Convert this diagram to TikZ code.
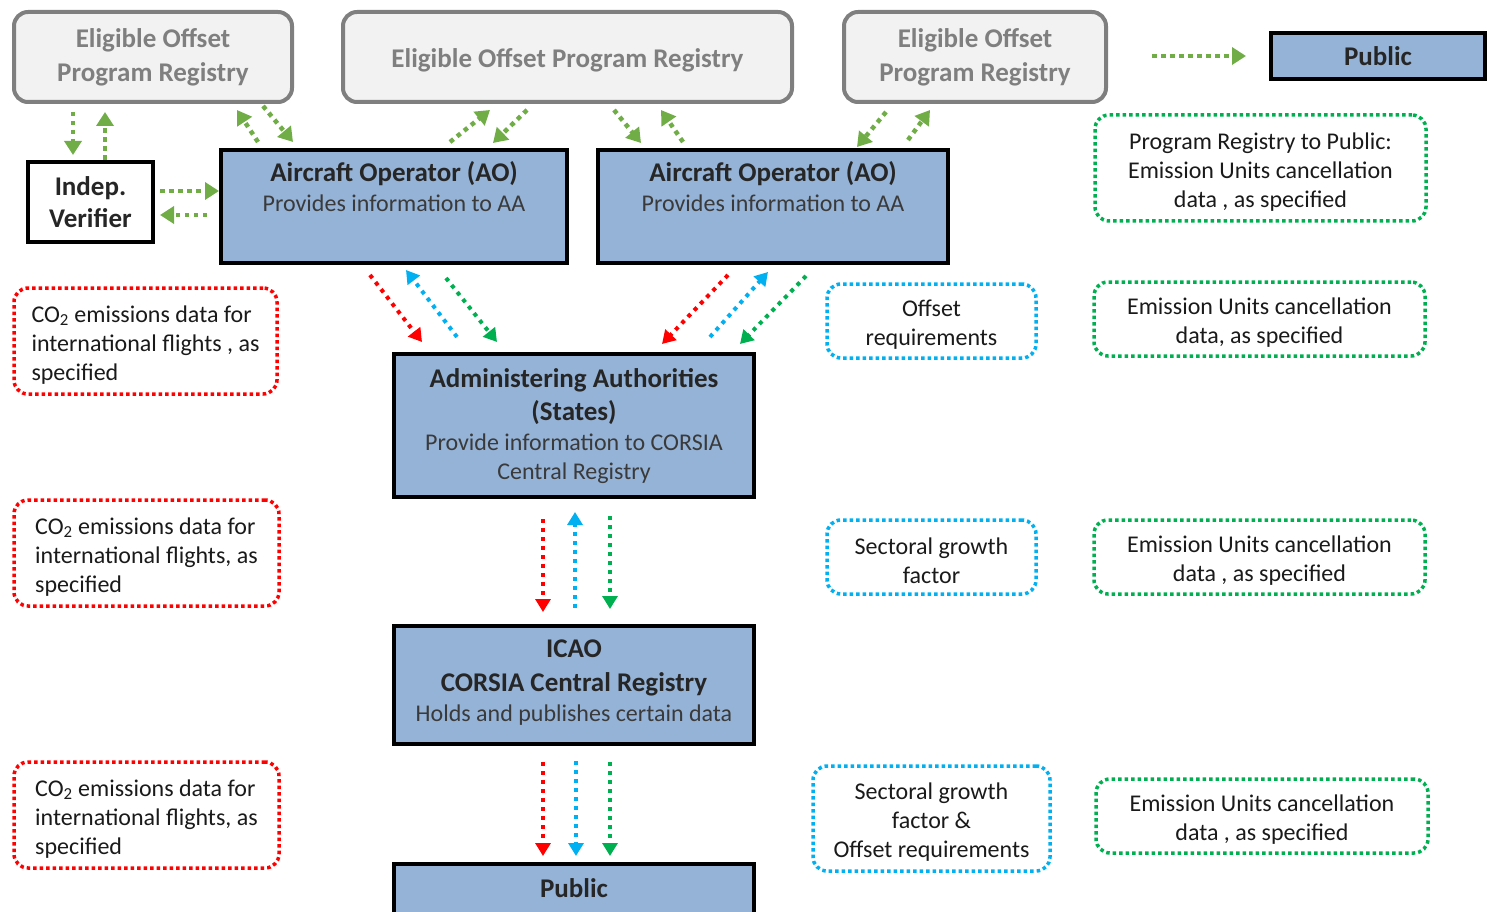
\documentclass[tikz,border=0pt]{standalone}
\usepackage{fontspec}
\setmainfont{Carlito}
\usetikzlibrary{arrows.meta,calc}
\definecolor{regfill}{HTML}{F2F2F2}
\definecolor{regdraw}{HTML}{7F7F7F}
\definecolor{regtext}{HTML}{7F7F7F}
\definecolor{boxfill}{HTML}{95B3D7}
\definecolor{boxtext}{HTML}{262626}
\definecolor{subtext}{HTML}{3A3A3A}
\definecolor{cOlive}{HTML}{70AD47}
\definecolor{cGreen}{HTML}{00B050}
\definecolor{cBlue}{HTML}{00B0F0}
\definecolor{cRed}{HTML}{FF0000}
\definecolor{dtext}{HTML}{1A1A1A}
\newcommand{\lowr}{\rule{0pt}{24pt}}
\tikzset{
  regbox/.style={draw=regdraw, fill=regfill, line width=4pt, rounded corners=14pt,
    text=regtext, font=\bfseries\fontsize{27}{34}\selectfont, align=center, inner sep=0pt},
  mainbox/.style={draw=black, fill=boxfill, line width=4pt, text=boxtext, align=center, inner sep=0pt},
  ttl/.style={text=boxtext, font=\bfseries\fontsize{27}{34}\selectfont, inner sep=0pt},
  sub/.style={text=subtext, font=\fontsize{24}{29}\selectfont, inner sep=0pt},
  databox/.style={line width=3.5pt, dash pattern=on 3.5pt off 3pt, rounded corners=14pt,
    text=dtext, font=\fontsize{24}{29}\selectfont, align=center, inner sep=0pt},
  oarr/.style={cOlive, line width=4.5pt, dash pattern=on 4.5pt off 4.5pt,
    -{Triangle[length=14pt,width=17pt]}},
  darr/.style={line width=4pt, dash pattern=on 4pt off 5pt,
    -{Triangle[length=13pt,width=15pt]}}
}
\begin{document}
\begin{tikzpicture}[x=1pt,y=-1pt]
\useasboundingbox (0,0) rectangle (1489,912);

% registries
\node[regbox, minimum width=278pt, minimum height=90pt] (reg1) at (153,57) {Eligible Offset\\Program Registry};
\node[regbox, minimum width=449pt, minimum height=90pt, text height=21pt, text depth=0pt] (reg2) at (567.5,57) {Eligible Offset Program Registry};
\node[regbox, minimum width=262pt, minimum height=90pt] (reg3) at (975,57) {Eligible Offset\\Program Registry};

% public top
\node[mainbox, minimum width=214pt, minimum height=46pt, font=\bfseries\fontsize{27}{34}\selectfont] (pubtop) at (1378,56) {Public};

% verifier
\node[draw=black, fill=white, line width=4pt, minimum width=125pt, minimum height=80pt,
  inner sep=0pt, align=center, text=boxtext, font=\bfseries\fontsize{27}{32}\selectfont] (iv) at (90.5,202) {Indep.\\Verifier};

% aircraft operators
\node[mainbox, minimum width=346pt, minimum height=113pt] (ao1) at (394,206.5) {};
\node[ttl] (ao1t) at (394,174) {Aircraft Operator (AO)};
\node[sub] (ao1s) at (394,203) {Provides information to AA};
\node[mainbox, minimum width=350pt, minimum height=113pt] (ao2) at (773,206.5) {};
\node[ttl] (ao2t) at (773,174) {Aircraft Operator (AO)};
\node[sub] (ao2s) at (773,203) {Provides information to AA};

% administering authorities
\node[mainbox, minimum width=360pt, minimum height=143pt] (aa) at (574,425.5) {};
\node[ttl] (aat1) at (574,380) {Administering Authorities};
\node[ttl] (aat2) at (574,413) {(States)};
\node[sub] (aas1) at (574,442) {Provide information to CORSIA};
\node[sub] (aas2) at (574,473) {Central Registry};

% ICAO
\node[mainbox, minimum width=360pt, minimum height=118pt] (icao) at (574,685) {};
\node[ttl] (icaot1) at (574,649) {ICAO};
\node[ttl] (icaot2) at (574,684) {CORSIA Central Registry};
\node[sub] (icaos) at (574,715) {Holds and publishes certain data};

% public bottom
\node[mainbox, minimum width=360pt, minimum height=62pt] (pubbot) at (574,895) {};
\node[ttl] (pubbott) at (574,888) {Public};

% data boxes
\node[databox, draw=cRed, minimum width=263pt, minimum height=106pt, align=left] (r1) at (145.5,341)
  {\lowr CO\textsubscript{2} emissions data for\\international flights , as\\specified};
\node[databox, draw=cRed, minimum width=265pt, minimum height=106pt, align=left] (r2) at (146.5,553)
  {\lowr CO\textsubscript{2} emissions data for\\international flights, as\\specified};
\node[databox, draw=cRed, minimum width=265pt, minimum height=106pt, align=left] (r3) at (146.5,815)
  {\lowr CO\textsubscript{2} emissions data for\\international flights, as\\specified};
\node[databox, draw=cBlue, minimum width=209pt, minimum height=74pt] (b1) at (931.5,321) {\lowr Offset\\requirements};
\node[databox, draw=cBlue, minimum width=209pt, minimum height=74pt] (b2) at (931.5,557) {\lowr Sectoral growth\\factor};
\node[databox, draw=cBlue, minimum width=237pt, minimum height=105pt] (b3) at (931.5,818.5) {\lowr Sectoral growth\\factor \&\\Offset requirements};
\node[databox, draw=cGreen, minimum width=331pt, minimum height=106pt] (g1) at (1260.5,168)
  {\lowr Program Registry to Public:\\Emission Units cancellation\\data , as specified};
\node[databox, draw=cGreen, minimum width=331pt, minimum height=74pt] (g2) at (1259.5,319)
  {\lowr Emission Units cancellation\\data, as specified};
\node[databox, draw=cGreen, minimum width=331pt, minimum height=74pt] (g3) at (1259.5,557)
  {\lowr Emission Units cancellation\\data , as specified};
\node[databox, draw=cGreen, minimum width=332pt, minimum height=74pt] (g4) at (1262,816)
  {\lowr Emission Units cancellation\\data , as specified};

% olive arrows (registry flows)
\draw[oarr] ($(reg1.center)+(-80,55)$) -- ($(iv.center)+(-17.5,-47)$);
\draw[oarr] ($(iv.center)+(14.5,-42)$) -- ($(reg1.center)+(-48,55)$);
\draw[oarr] ($(iv.center)+(69.5,-11)$) -- ($(ao1.center)+(-175,-15.5)$);
\draw[oarr] ($(ao1.center)+(-187,8.5)$) -- ($(iv.center)+(69.5,13)$);
\draw[oarr] ($(ao1.center)+(-136,-64.5)$) -- ($(reg1.center)+(84,53)$);
\draw[oarr] ($(reg1.center)+(110,49)$) -- ($(ao1.center)+(-101,-64.5)$);
\draw[oarr] ($(ao1.center)+(56,-64.5)$) -- ($(reg2.center)+(-77.5,53)$);
\draw[oarr] ($(reg2.center)+(-40.5,53)$) -- ($(ao1.center)+(99,-63.5)$);
\draw[oarr] ($(reg2.center)+(46.5,53)$) -- ($(ao2.center)+(-132,-63.5)$);
\draw[oarr] ($(ao2.center)+(-90,-64.5)$) -- ($(reg2.center)+(93.5,53)$);
\draw[oarr] ($(reg3.center)+(-89,55)$) -- ($(ao2.center)+(84,-59.5)$);
\draw[oarr] ($(ao2.center)+(135,-66.5)$) -- ($(reg3.center)+(-45,53)$);
\draw[oarr] ($(reg3.center)+(177,-1)$) -- ($(pubtop.center)+(-132,0)$);

% data arrows AO -> AA
\draw[darr, cRed]   ($(ao1.center)+(-24,68.5)$) -- ($(aa.center)+(-152,-83.5)$);
\draw[darr, cBlue]  ($(aa.center)+(-117,-88.5)$) -- ($(ao1.center)+(12,63.5)$);
\draw[darr, cGreen] ($(ao1.center)+(52,71.5)$) -- ($(aa.center)+(-77,-83.5)$);
\draw[darr, cRed]   ($(ao2.center)+(-45,68.5)$) -- ($(aa.center)+(88,-81.5)$);
\draw[darr, cBlue]  ($(aa.center)+(136,-88.5)$) -- ($(ao2.center)+(-5,65.5)$);
\draw[darr, cGreen] ($(ao2.center)+(33,69.5)$) -- ($(aa.center)+(166,-81.5)$);

% AA <-> ICAO
\draw[darr, cRed]   ($(aa.center)+(-31,93.5)$) -- ($(icao.center)+(-31,-73)$);
\draw[darr, cBlue]  ($(icao.center)+(1,-77)$) -- ($(aa.center)+(1,86.5)$);
\draw[darr, cGreen] ($(aa.center)+(36,90.5)$) -- ($(icao.center)+(36,-76)$);

% ICAO -> Public
\draw[darr, cRed]   ($(icao.center)+(-31,77)$) -- ($(pubbot.center)+(-31,-39)$);
\draw[darr, cBlue]  ($(icao.center)+(2,76)$) -- ($(pubbot.center)+(2,-39)$);
\draw[darr, cGreen] ($(icao.center)+(36,77)$) -- ($(pubbot.center)+(36,-39)$);
\end{tikzpicture}
\end{document}
